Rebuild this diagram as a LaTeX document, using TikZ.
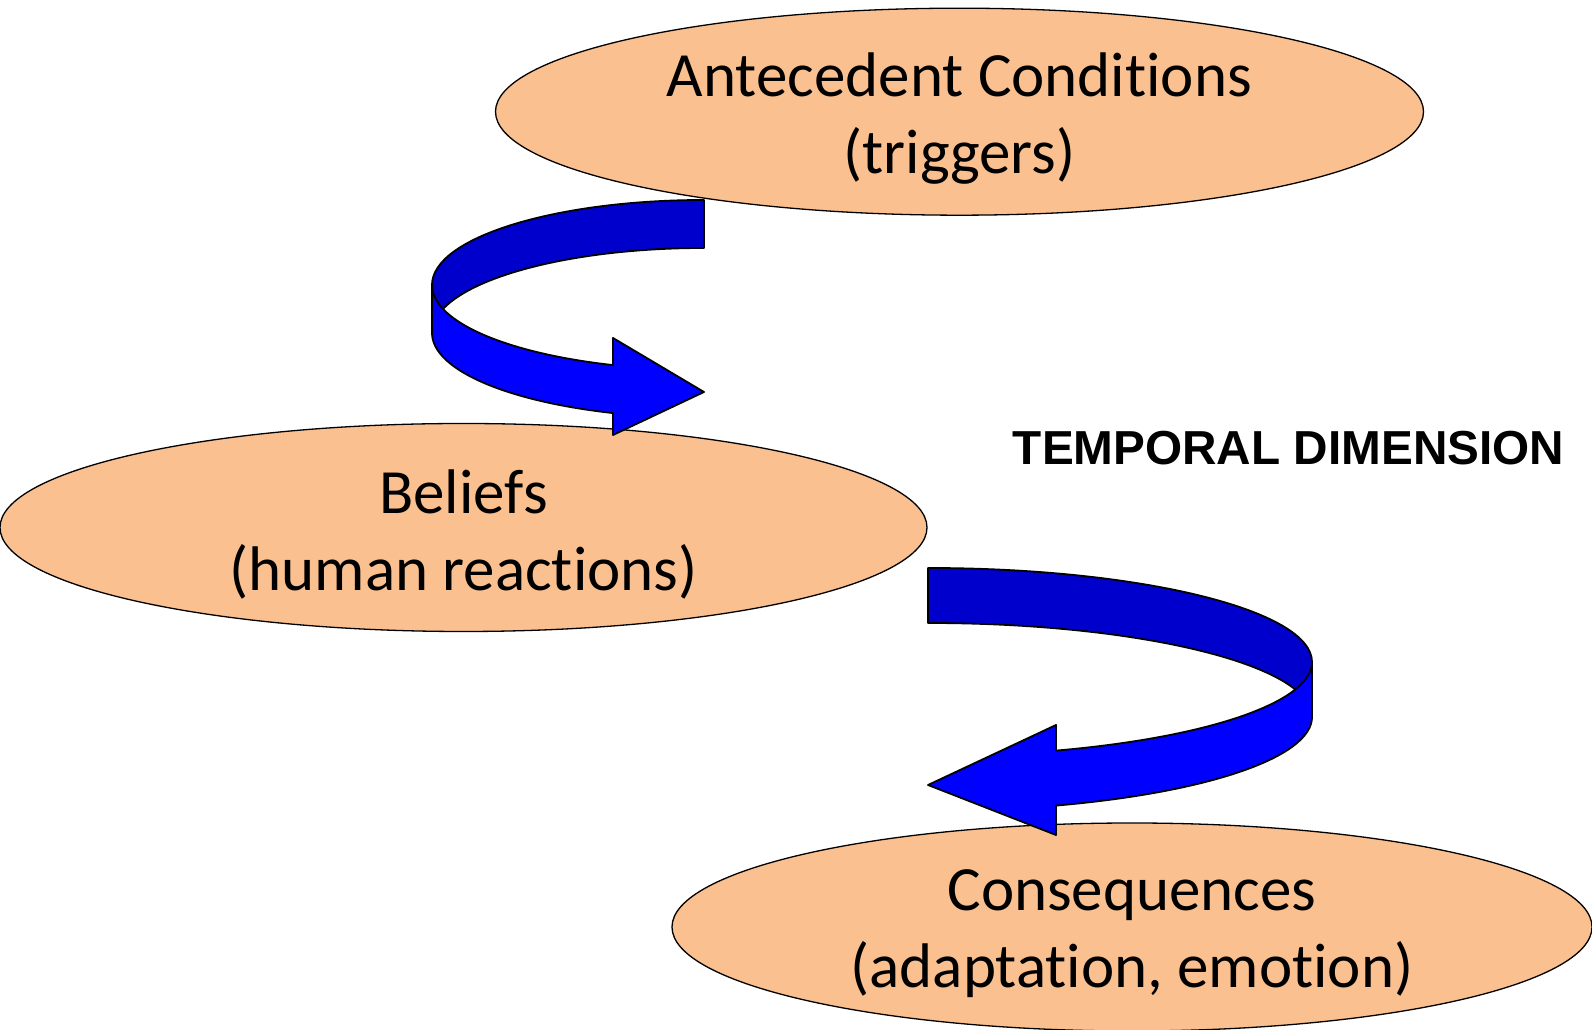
\documentclass[tikz,border=0pt]{standalone}
\usepackage{fontspec}
\setmainfont{Carlito}[Ligatures=NoCommon]
\newfontfamily\headfont{Liberation Sans}
\usetikzlibrary{shapes.geometric}
\definecolor{peach}{HTML}{FAC090}
\definecolor{bluefront}{HTML}{0000FF}
\definecolor{blueback}{HTML}{0000CC}
\tikzset{
  oval/.style={ellipse,draw=black,line width=1.3pt,fill=peach,inner sep=0pt},
  otext/.style={align=center,inner sep=0pt,font=\fontsize{63}{77}\selectfont},
  bandback/.style={draw=black,line width=1.8pt,line join=round,fill=blueback},
  bandfront/.style={bandback,fill=bluefront},
  tlabel/.style={inner sep=0pt,font=\headfont\bfseries\fontsize{47.7}{57}\selectfont},
}
\begin{document}
\begin{tikzpicture}[x=1pt,y=1pt]
\useasboundingbox (0,0) rectangle (1592,1030);
\node[oval,minimum width=928pt,minimum height=207pt] (antec) at (959.5,918.3) {};
\node[otext] (antectext) at ([yshift=-7pt]antec.center) {Antecedent Conditions\\(triggers)};
\node[oval,minimum width=927pt,minimum height=208pt] (beliefs) at (463.5,502.5) {};
\node[otext] (beliefstext) at ([yshift=-7pt]beliefs.center) {Beliefs\\(human reactions)};
\node[oval,minimum width=920pt,minimum height=208pt] (conseq) at (1132,103) {};
\node[otext] (conseqtext) at ([yshift=-7pt]conseq.center) {Consequences\\(adaptation, emotion)};
\node[tlabel] (temporal) at (1288.5,582) {TEMPORAL DIMENSION};
% first turn
\draw[bandback] (704,830) arc[start angle=90,end angle=180,x radius=272pt,y radius=85pt]
  -- ++(0,-48) arc[start angle=180,end angle=90,x radius=272pt,y radius=85pt] -- cycle;
\draw[bandfront] (432,745) arc[start angle=180,end angle=250.45,x radius=272pt,y radius=85pt]
  -- (613,692) -- (704,638) -- (613,595) -- (613,616.9)
  arc[start angle=250.45,end angle=180,x radius=272pt,y radius=85pt] -- cycle;
% second turn
\draw[bandback] (928,462) arc[start angle=90,end angle=0,x radius=384pt,y radius=94pt]
  -- ++(0,-55) arc[start angle=0,end angle=90,x radius=384pt,y radius=94pt] -- cycle;
\draw[bandfront] (1312,368) arc[start angle=0,end angle=-70.53,x radius=384pt,y radius=94pt]
  -- (1056,305) -- (928,245) -- (1056,195) -- (1056,224.4)
  arc[start angle=-70.53,end angle=0,x radius=384pt,y radius=94pt] -- cycle;
\end{tikzpicture}
\end{document}
